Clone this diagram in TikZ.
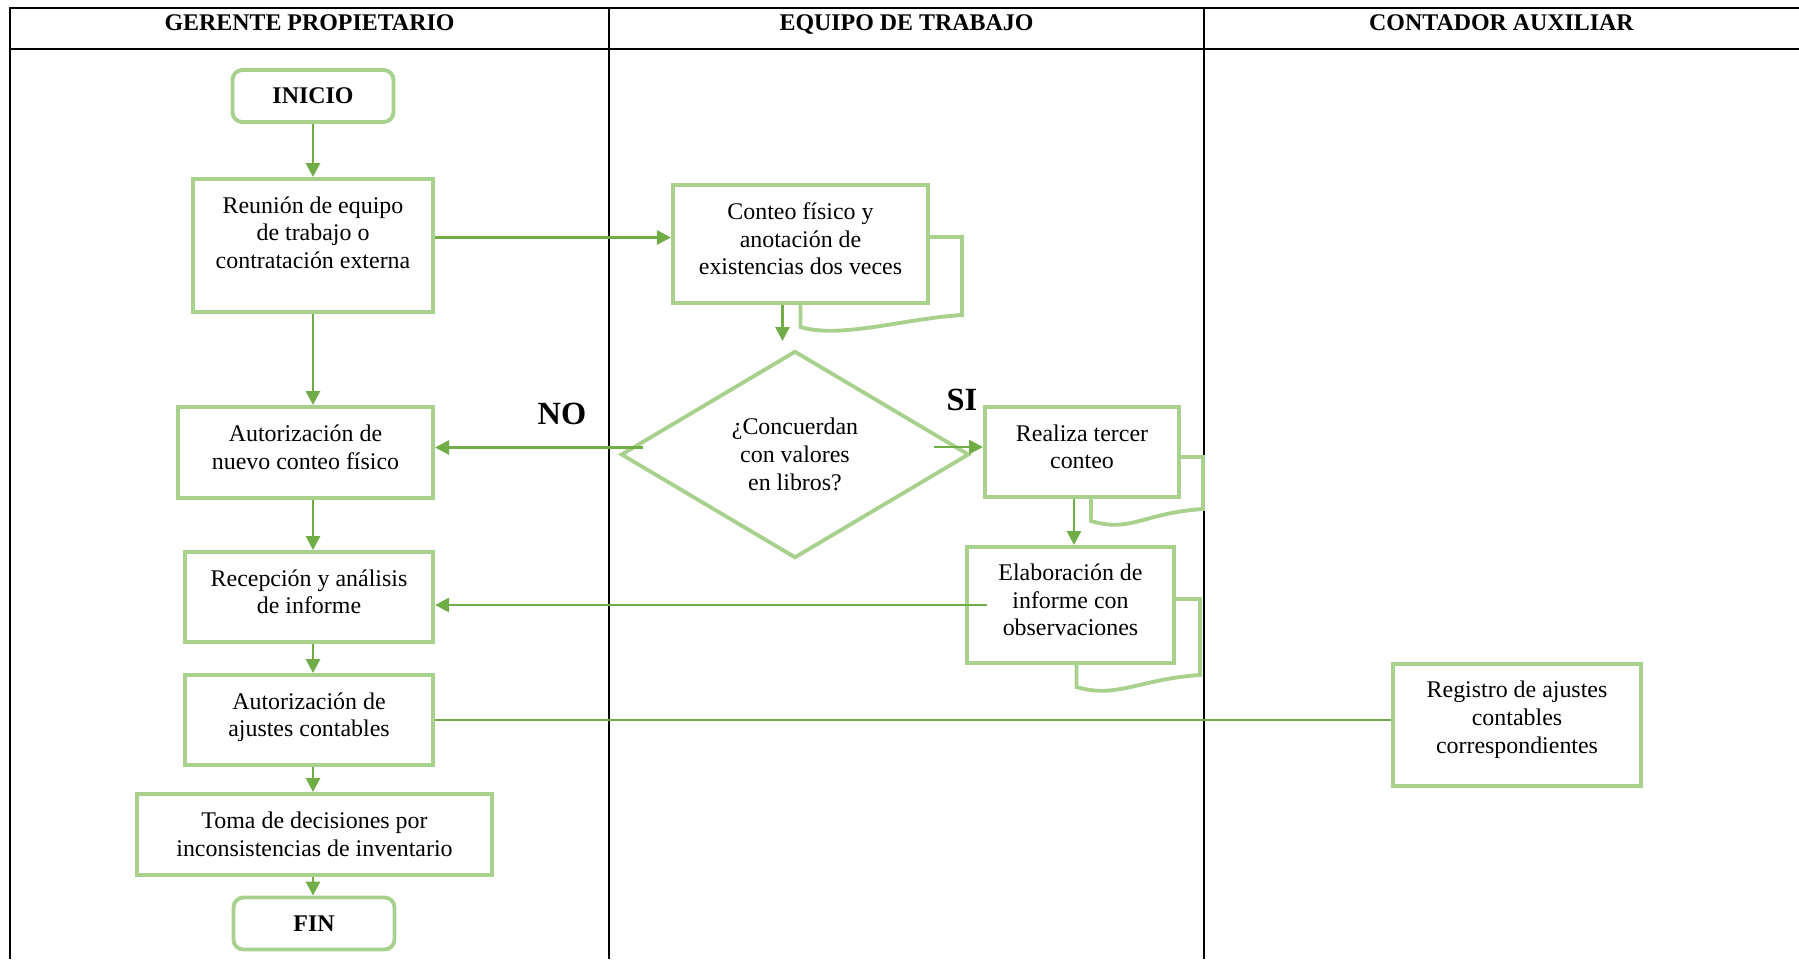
\documentclass[tikz,border=0pt]{standalone}
\usepackage{fontspec}
\setmainfont{Liberation Serif}
\usepackage{xcolor}
\usepackage{tikz}
\usetikzlibrary{positioning, arrows.meta, calc, shapes.geometric}
\definecolor{boxGreen}{RGB}{169,209,142}
\definecolor{lineGreen}{RGB}{112,173,71}
\newcommand{\flowfont}{\fontsize{6.8}{7.9}\selectfont}
% back sheet of a document box: node, left offset, right offset, top offset
\newcommand{\docback}[4]{%
  \draw[docline] ($(#1.south)+(#2,0)$) -- ++(0,22)
    .. controls +(40,12) and +(-60,4) .. ($(#1.south east)+(#3,10)$)
    |- ($(#1.south east)+(0,-#4)$);}

\begin{document}
\begin{tikzpicture}[
    x=0.01cm, y=-0.01cm,
    box/.style={rectangle, draw=boxGreen, line width=1.1pt, fill=white, align=center, font=\flowfont, inner sep=2pt, text depth=3pt},
    term/.style={box, rounded corners=0.1cm, font=\flowfont\bfseries, minimum width=1.61cm, minimum height=0.52cm, text depth=},
    decision/.style={diamond, draw=boxGreen, line width=1.1pt, fill=white, align=center, font=\flowfont, inner sep=0pt, minimum width=3.48cm, minimum height=2.07cm},
    docline/.style={draw=boxGreen, line width=1.1pt},
    arrow/.style={draw=lineGreen, line width=0.75pt, -{Triangle[length=0.14cm, width=0.14cm]}},
    link/.style={draw=lineGreen, line width=0.75pt},
    lane/.style={draw=black, line width=0.8pt},
    lanehead/.style={font=\flowfont\bfseries, anchor=base},
    answer/.style={font=\fontsize{9.2}{11}\selectfont\bfseries}
]
\useasboundingbox (0,0) rectangle (1799,959);

% Lanes
\draw[lane] (1799,8) -- (10,8) -- (10,959);
\draw[lane] (10,49) -- (1799,49);
\draw[lane] (609,8) -- (609,959);
\draw[lane] (1204,8) -- (1204,959);
\node[lanehead] (hgerente) at (309.5,30) {GERENTE PROPIETARIO};
\node[lanehead] (hequipo) at (906.5,30) {EQUIPO DE TRABAJO};
\node[lanehead] (hcontador) at (1501.5,30) {CONTADOR AUXILIAR};

% Nodes
\node[term] (inicio) at (313,96) {INICIO};
\node[box, minimum width=2.4cm, minimum height=1.33cm, text depth=7.4pt] (reunion) at (313,245.5) {Reunión de equipo\\de trabajo o\\contratación externa};
\node[box, minimum width=2.55cm, minimum height=1.18cm] (conteo) at (800.5,244) {Conteo físico y\\anotación de\\existencias dos veces};
\node[decision] (concuerdan) at (795,454.5) {¿Concuerdan\\con valores\\en libros?};
\node[box, minimum width=2.55cm, minimum height=0.91cm] (nuevo) at (305.5,452.5) {Autorización de\\nuevo conteo físico};
\node[box, minimum width=1.94cm, minimum height=0.9cm] (tercer) at (1082,452) {Realiza tercer\\conteo};
\node[box, minimum width=2.48cm, minimum height=0.9cm] (recepcion) at (309,597) {Recepción y análisis\\de informe};
\node[box, minimum width=2.07cm, minimum height=1.16cm] (informe) at (1070.5,605) {Elaboración de\\informe con\\observaciones};
\node[box, minimum width=2.48cm, minimum height=0.9cm] (ajustes) at (309,720) {Autorización de\\ajustes contables};
\node[box, minimum width=3.55cm, minimum height=0.81cm, text depth=] (decisiones) at (314.5,834.5) {Toma de decisiones por\\inconsistencias de inventario};
\node[term] (fin) at (314,923.5) {FIN};
\node[box, minimum width=2.48cm, minimum height=1.22cm, text depth=4.5pt] (registro) at (1517,725) {Registro de ajustes\\contables\\correspondientes};

% Document sheets
\docback{conteo}{0}{32}{68}
\docback{tercer}{9}{22}{42}
\docback{informe}{6}{24}{66}

% Arrows
\draw[arrow] (inicio) -- (reunion);
\draw[arrow] ([yshift=0.08cm]reunion.east) -- ([yshift=0.08cm]reunion.east -| conteo.west);
\draw[arrow, shorten >=0.08cm] ([xshift=-0.18cm]conteo.south) -- ([xshift=-0.18cm]conteo.south |- concuerdan.north);
\draw[arrow] (reunion) -- (nuevo.north -| reunion);
\draw[arrow] ([xshift=0.24cm, yshift=0.05cm]concuerdan.west |- nuevo.east) -- ([yshift=0.05cm]nuevo.east);
\node[answer] (no) at (562,414) {NO};
\draw[arrow] ([xshift=-0.37cm, yshift=0.05cm]concuerdan.east |- tercer.west) -- ([yshift=0.05cm]tercer.west);
\node[answer] (si) at (962,400) {SI};
\draw[arrow] ([xshift=-0.08cm]tercer.south) -- ([xshift=-0.08cm]tercer.south |- informe.north);
\draw[arrow] ([xshift=0.22cm]informe.west) -- (informe.west -| recepcion.east);
\draw[arrow] (nuevo.south -| reunion) -- (recepcion.north -| reunion);
\draw[arrow] (recepcion.south -| reunion) -- (ajustes.north -| reunion);
\draw[arrow] (ajustes.south -| reunion) -- (decisiones.north -| reunion);
\draw[arrow] (decisiones.south -| reunion) -- (fin.north -| reunion);
\draw[link] (ajustes.east) -- (ajustes.east -| registro.west);
\end{tikzpicture}
\end{document}
